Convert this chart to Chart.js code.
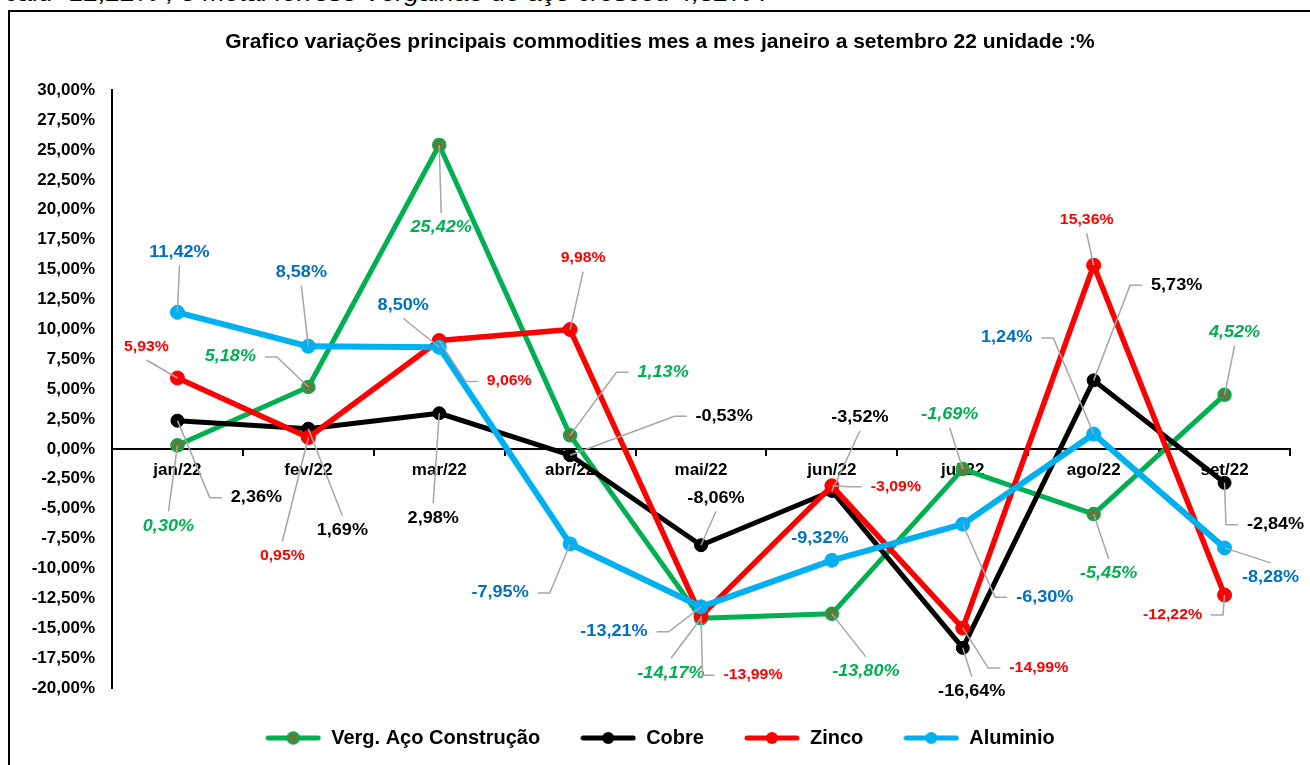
<!DOCTYPE html>
<html lang="pt">
<head>
<meta charset="utf-8">
<title>Commodities 2022</title>
<script src="https://cdn.jsdelivr.net/npm/chart.js@4.4.1/dist/chart.umd.min.js"></script>
<style>
    html, body { margin: 0; padding: 0; background: #fff; overflow: hidden; }
    body { width: 1310px; height: 765px; position: relative; font-family: "Liberation Sans", Arial, sans-serif; }
    #lead { position: absolute; left: 5px; top: -17px; font-style: italic; font-size: 22px; line-height: 22px;
            white-space: nowrap; transform: scaleX(1.2); transform-origin: 0 0; color: #000; }
    #frame { position: absolute; left: 8px; top: 10px; width: 1400px; height: 900px; border: 2px solid #000; }
    #wrap { position: absolute; left: 0; top: 0; width: 1310px; height: 765px; }
</style>
</head>
<body>
<div id="lead">caiu -12,22% ; o metal ferroso Vergalhão de aço cresceu 4,52% .</div>
<div id="frame"></div>
<div id="wrap"><canvas id="chart"></canvas></div>
<script>
    const months = ['jan/22', 'fev/22', 'mar/22', 'abr/22', 'mai/22', 'jun/22', 'jul/22', 'ago/22', 'set/22'];
    const vergAco = [0.30, 5.18, 25.42, 1.13, -14.17, -13.80, -1.69, -5.45, 4.52];
    const cobre = [2.36, 1.69, 2.98, -0.53, -8.06, -3.52, -16.64, 5.73, -2.84];
    const zinco = [5.93, 0.95, 9.06, 9.98, -13.99, -3.09, -14.99, 15.36, -12.22];
    const aluminio = [11.42, 8.58, 8.50, -7.95, -13.21, -9.32, -6.30, 1.24, -8.28];
    const seriesNames = ['Verg. Aço Construção', 'Cobre', 'Zinco', 'Aluminio'];
    const yMin = -20;
    const yMax = 30;
    const yStep = 2.5;

    const FONT = "'Liberation Sans', Arial, sans-serif";
    Chart.defaults.font.family = FONT;

    // where each data label sits relative to its point (px) and how its leader line is drawn
    const labelPlacement = [
        [[-9, 81, 'v'], [-78, -30, 'h'], [2, 83, 'v'], [93, -63, 'h'], [-30, 55, 'v'], [34, 58, 'v'], [-13, -54, 'v'], [15, 60, 'v'], [10, -62, 'v']],
        [[79, 77, 'h'], [34, 102, 'v'], [-6, 105, 'v'], [154, -39, 'h'], [15, -47, 'v'], [28, -73, 'v'], [9, 44, 'v'], [83, -95, 'h'], [51, 42, 'h']],
        [[-31, -31, 'v'], [-26, 119, 'v'], [70, 41, 'h'], [13, -71, 'v'], [52, 59, 'h'], [64, 1, 'h'], [76, 40, 'h'], [-7, -45, 'v'], [-52, 20, 'h']],
        [[2, -60, 'v'], [-7, -74, 'v'], [-36, -42, 'v'], [-70, 49, 'h'], [-87, 25, 'h'], [-12, -22, null], [82, 73, 'h'], [-87, -96, 'h'], [46, 30, 'v']]
    ];
    const labelStyle = [
        { color: '#00B050', font: 'italic bold 16px ' + FONT },
        { color: '#000000', font: 'bold 16px ' + FONT },
        { color: '#FF0000', font: 'bold 14px ' + FONT },
        { color: '#0070C0', font: 'bold 16px ' + FONT }
    ];
    const TEXT_STRETCH = 1.13;

    function pct(v) {
        return v.toFixed(2).replace('.', ',') + '%';
    }

    function makeSwatch(line, fill, ring) {
        const c = document.createElement('canvas');
        c.width = 56; c.height = 14;
        const g = c.getContext('2d');
        g.strokeStyle = line; g.lineWidth = 5; g.lineCap = 'round';
        g.beginPath(); g.moveTo(3, 7); g.lineTo(53, 7); g.stroke();
        g.fillStyle = fill;
        g.beginPath(); g.arc(28, 7, 6, 0, Math.PI * 2); g.fill();
        if (ring) { g.strokeStyle = ring; g.lineWidth = 1.5; g.stroke(); }
        return c;
    }

    const swatches = [
        makeSwatch('#00B050', '#5B7F3B', '#00B050'),
        makeSwatch('#000000', '#000000'),
        makeSwatch('#FF0000', '#FF0000'),
        makeSwatch('#00B0F0', '#00B0F0')
    ];

    const dataLabels = {
        id: 'dataLabels',
        afterDatasetsDraw(chart) {
            const ctx = chart.ctx;
            chart.data.datasets.forEach((ds, i) => {
                const meta = chart.getDatasetMeta(i);
                const st = labelStyle[i];
                meta.data.forEach((pt, j) => {
                    const [dx, dy, kind] = labelPlacement[i][j];
                    const text = pct(ds.data[j]);
                    const lx = pt.x + dx;
                    const ly = pt.y + dy;
                    ctx.save();
                    ctx.font = st.font;
                    const w = ctx.measureText(text).width * TEXT_STRETCH;

                    ctx.strokeStyle = '#A6A6A6';
                    ctx.lineWidth = 1.5;
                    if (kind === 'v') {
                        ctx.beginPath();
                        ctx.moveTo(pt.x, pt.y);
                        ctx.lineTo(lx, dy > 0 ? ly - 15 : ly + 13);
                        ctx.stroke();
                    } else if (kind === 'h') {
                        const side = dx > 0 ? -1 : 1;
                        const edge = lx + side * w / 2;
                        ctx.beginPath();
                        ctx.moveTo(pt.x, pt.y);
                        ctx.lineTo(edge + side * 21, ly);
                        ctx.lineTo(edge + side * 9, ly);
                        ctx.stroke();
                    }

                    ctx.translate(lx, ly);
                    ctx.scale(TEXT_STRETCH, 1);
                    ctx.fillStyle = st.color;
                    ctx.textAlign = 'center';
                    ctx.textBaseline = 'middle';
                    ctx.fillText(text, 0, 0);
                    ctx.restore();
                });
            });
        }
    };

    new Chart(document.getElementById('chart'), {
        type: 'line',
        data: {
            labels: months,
            datasets: [
                { label: seriesNames[0], data: vergAco, order: 4, borderColor: '#00B050', borderWidth: 5,
                  pointRadius: 6.5, pointBackgroundColor: '#5B7F3B', pointBorderColor: '#00B050', pointBorderWidth: 1.5 },
                { label: seriesNames[1], data: cobre, order: 3, borderColor: '#000000', borderWidth: 5,
                  pointRadius: 6.5, pointBackgroundColor: '#000000', pointBorderColor: '#000000', pointBorderWidth: 1 },
                { label: seriesNames[2], data: zinco, order: 2, borderColor: '#FF0000', borderWidth: 5.5,
                  pointRadius: 7, pointBackgroundColor: '#FF0000', pointBorderColor: '#FF0000', pointBorderWidth: 1 },
                { label: seriesNames[3], data: aluminio, order: 1, borderColor: '#00B0F0', borderWidth: 6,
                  pointRadius: 7, pointBackgroundColor: '#00B0F0', pointBorderColor: '#00B0F0', pointBorderWidth: 1 }
            ]
        },
        options: {
            responsive: true,
            maintainAspectRatio: false,
            animation: false,
            events: [],
            layout: { padding: { left: 30, right: 20, top: 0, bottom: 7 } },
            elements: { line: { tension: 0, borderCapStyle: 'round', borderJoinStyle: 'round' } },
            plugins: {
                tooltip: { enabled: false },
                title: {
                    display: true,
                    text: 'Grafico variações principais commodities mes a mes janeiro a setembro 22 unidade :%',
                    color: '#000',
                    font: { size: 21, weight: 'bold' },
                    padding: { top: 30, bottom: 35 }
                },
                legend: {
                    position: 'bottom',
                    labels: {
                        color: '#000',
                        font: { size: 20, weight: 'bold' },
                        padding: 40,
                        usePointStyle: true,
                        pointStyleWidth: 56,
                        sort: (a, b) => a.datasetIndex - b.datasetIndex,
                        generateLabels(chart) {
                            const items = Chart.defaults.plugins.legend.labels.generateLabels(chart);
                            items.forEach(it => { it.pointStyle = swatches[it.datasetIndex]; });
                            return items;
                        }
                    }
                }
            },
            scales: {
                x: {
                    type: 'category',
                    offset: true,
                    position: { y: 0 },
                    grid: { display: true, drawOnChartArea: false, drawTicks: true, tickLength: 6,
                            color: '#000', lineWidth: 2, offset: true },
                    border: { display: true, color: '#000', width: 2 },
                    ticks: { color: '#000', padding: 5, font: { size: 17, weight: 'bold' }, maxRotation: 0 }
                },
                y: {
                    min: yMin,
                    max: yMax,
                    afterFit(scale) { scale.width = 82; },
                    grid: { display: false, drawTicks: false },
                    border: { display: true, color: '#000', width: 2 },
                    ticks: {
                        stepSize: yStep,
                        color: '#000',
                        padding: 17,
                        font: { size: 17, weight: 'bold' },
                        callback: v => pct(v)
                    }
                }
            }
        },
        plugins: [dataLabels]
    });
</script>
</body>
</html>
